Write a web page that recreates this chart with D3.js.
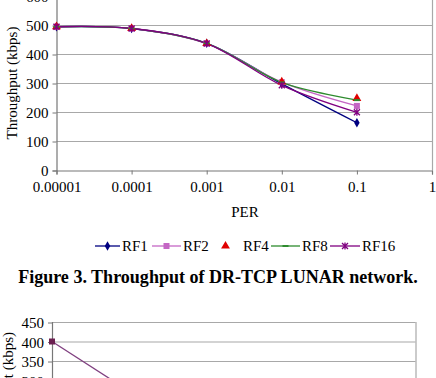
<!DOCTYPE html>
<html>
<head>
<meta charset="utf-8">
<script src="https://cdn.jsdelivr.net/npm/d3@7"></script>
<style>
  html, body { margin: 0; padding: 0; background: #fff; }
  svg { display: block; }
</style>
</head>
<body>
<svg id="chart" width="436" height="378"></svg>
<script>
// ---------- data ----------
const perValues = [0.00001, 0.0001, 0.001, 0.01, 0.1];
const xTickValues = [0.00001, 0.0001, 0.001, 0.01, 0.1, 1];
const xTickLabels = ["0.00001", "0.0001", "0.001", "0.01", "0.1", "1"];
const yTickValues = [0, 100, 200, 300, 400, 500, 600];

const rf1 = [494, 488, 437, 297, 163];
const rf2 = [494, 488, 436, 303, 221];
const rf4 = [494, 488, 436, 304, 247];
const rf8 = [494, 488, 437, 302, 241];
const rf16 = [494, 488, 436, 292, 199];

const seriesNames = ["RF1", "RF2", "RF4", "RF8", "RF16"];
const seriesValues = [rf1, rf2, rf4, rf8, rf16];

// second (partially visible) figure
const fig2Per = [0.00001, 0.0001];
const fig2Values = [400, 280];
const fig2YTicks = [300, 350, 400, 450];

const captionText = "Figure 3. Throughput of DR-TCP LUNAR network.";

// ---------- styles ----------
const FONT = "'Times New Roman', Tinos, FreeSerif, serif";
const styles = {
  RF1: { color: "#000080", marker: "diamond", line: true },
  RF2: { color: "#c466c4", marker: "square", line: true },
  RF4: { color: "#e00000", marker: "triangle", line: false },
  RF8: { color: "#2e8b2e", marker: "dash", line: true },
  RF16: { color: "#800080", marker: "star", line: true }
};

const svg = d3.select("#chart");
const gridColor = "#a8a8a8";

function txt(sel, size, weight) {
  return sel.attr("font-family", FONT).style("font-family", FONT)
    .style("font-size", size + "px").style("font-weight", weight || "normal").attr("fill", "#000");
}

function drawMarker(g, type, cx, cy, color) {
  if (type === "diamond") {
    g.append("path").attr("d", d3.symbol(d3.symbolDiamond, 26)())
      .attr("transform", `translate(${cx},${cy})`).attr("fill", color);
  } else if (type === "square") {
    g.append("rect").attr("x", cx - 3).attr("y", cy - 3).attr("width", 6).attr("height", 6)
      .attr("fill", color);
  } else if (type === "triangle") {
    g.append("path").attr("d", d3.symbol(d3.symbolTriangle, 34)())
      .attr("transform", `translate(${cx},${cy})`).attr("fill", color);
  } else if (type === "dash") {
    g.append("line").attr("x1", cx - 3).attr("x2", cx + 3).attr("y1", cy).attr("y2", cy)
      .attr("stroke", color).attr("stroke-width", 2);
  } else if (type === "star") {
    const s = 3;
    g.append("path")
      .attr("d", `M${cx - s},${cy - s}L${cx + s},${cy + s}M${cx - s},${cy + s}L${cx + s},${cy - s}M${cx},${cy - s - 0.5}L${cx},${cy + s + 0.5}`)
      .attr("stroke", color).attr("stroke-width", 1.3).attr("fill", "none");
  }
}

// ---------- Figure 3 ----------
const x = d3.scaleLog().domain([1e-5, 1]).range([56.5, 432]);
const y = d3.scaleLinear().domain([0, 600]).range([170, -4]);

const plot = svg.append("g");

plot.selectAll("line.grid").data(yTickValues.filter(v => v > 0)).join("line")
  .attr("x1", x.range()[0]).attr("x2", x.range()[1])
  .attr("y1", d => y(d) + 0.5).attr("y2", d => y(d) + 0.5)
  .attr("stroke", gridColor).attr("stroke-width", 1.2);

plot.append("line").attr("x1", x.range()[1] + 0.5).attr("x2", x.range()[1] + 0.5)
  .attr("y1", y(600)).attr("y2", y(0)).attr("stroke", gridColor).attr("stroke-width", 1.2);

const yAxis = d3.axisLeft(y).tickValues(yTickValues).tickSize(4).tickPadding(4).tickFormat(d3.format("d"));
const gy = plot.append("g").attr("transform", `translate(${x.range()[0]},0.5)`).call(yAxis);
gy.attr("font-family", null);
gy.select(".domain").attr("stroke", "#777").attr("stroke-width", 1.2);
gy.selectAll(".tick line").attr("stroke", "#777");
txt(gy.selectAll(".tick text"), 15).attr("dy", "0.34em");

const xAxis = d3.axisBottom(x).tickValues(xTickValues).tickSize(4).tickPadding(7)
  .tickFormat((d, i) => xTickLabels[i]);
const gx = plot.append("g").attr("transform", `translate(0,${y(0) + 0.5})`).call(xAxis);
gx.attr("font-family", null);
gx.select(".domain").attr("stroke", "#777").attr("stroke-width", 1.2);
gx.selectAll(".tick line").attr("stroke", "#777");
txt(gx.selectAll(".tick text"), 15);

txt(svg.append("text"), 15).attr("transform", `translate(17,${(y(0) + y(600)) / 2}) rotate(-90)`)
  .attr("text-anchor", "middle").text("Throughput (kbps)");
txt(svg.append("text"), 15).attr("x", 245).attr("y", 217).attr("text-anchor", "middle").text("PER");

const lineGen = d3.line().x((d, i) => x(perValues[i])).y(d => y(d)).curve(d3.curveCatmullRom.alpha(0.5));
seriesNames.forEach((name, si) => {
  const st = styles[name];
  if (st.line) {
    plot.append("path").datum(seriesValues[si]).attr("d", lineGen)
      .attr("fill", "none").attr("stroke", st.color).attr("stroke-width", 1.3);
  }
});
seriesNames.forEach((name, si) => {
  const st = styles[name];
  const g = plot.append("g");
  seriesValues[si].forEach((v, i) => drawMarker(g, st.marker, x(perValues[i]), y(v), st.color));
});

// legend
const legendY = 246;
const legendItems = [
  { name: "RF1", lx: 95, lw: 25, tx: 122 },
  { name: "RF2", lx: 152, lw: 29, tx: 183 },
  { name: "RF4", lx: 212, lw: 27, tx: 243 },
  { name: "RF8", lx: 271, lw: 29, tx: 302 },
  { name: "RF16", lx: 330, lw: 30, tx: 362 }
];
const lg = svg.append("g");
legendItems.forEach(it => {
  const st = styles[it.name];
  if (st.line) {
    lg.append("line").attr("x1", it.lx).attr("x2", it.lx + it.lw).attr("y1", legendY).attr("y2", legendY)
      .attr("stroke", st.color).attr("stroke-width", 1.3);
  }
  drawMarker(lg, st.marker, it.lx + it.lw / 2, legendY, st.color);
  txt(lg.append("text"), 15).attr("x", it.tx).attr("y", legendY + 5).text(it.name);
});

// caption
const cap = txt(svg.append("text"), 17, "bold").attr("x", 218).attr("y", 283).attr("text-anchor", "middle")
  .text(captionText);
const capW = cap.node().getComputedTextLength();
if (capW > 0) cap.style("font-size", (17 * 400 / capW).toFixed(2) + "px");

// ---------- next figure (cut off) ----------
const x2 = d3.scaleLog().domain([1e-5, 1]).range([52, 415.5]);
const y2 = d3.scaleLinear().domain([0, 450]).range([497.5, 322]);
const p2 = svg.append("g");
p2.selectAll("line.grid2").data(fig2YTicks).join("line")
  .attr("x1", x2.range()[0]).attr("x2", x2.range()[1])
  .attr("y1", d => y2(d) + 0.5).attr("y2", d => y2(d) + 0.5)
  .attr("stroke", gridColor).attr("stroke-width", 1.2);
p2.append("line").attr("x1", x2.range()[1] + 0.5).attr("x2", x2.range()[1] + 0.5)
  .attr("y1", y2(450)).attr("y2", 400).attr("stroke", gridColor).attr("stroke-width", 1.2);
const y2Axis = d3.axisLeft(y2).tickValues(fig2YTicks).tickSize(4).tickPadding(4).tickFormat(d3.format("d"));
const gy2 = p2.append("g").attr("transform", `translate(${x2.range()[0]},0.5)`).call(y2Axis);
gy2.attr("font-family", null);
gy2.select(".domain").remove();
p2.append("line").attr("x1", x2.range()[0] + 0.5).attr("x2", x2.range()[0] + 0.5)
  .attr("y1", y2(450)).attr("y2", 400).attr("stroke", "#777").attr("stroke-width", 1.2);
gy2.selectAll(".tick line").attr("stroke", "#777");
txt(gy2.selectAll(".tick text"), 15).attr("dy", "0.34em");
txt(svg.append("text"), 15).attr("transform", `translate(13,332) rotate(-90)`)
  .attr("text-anchor", "end").text("Throughput (kbps)");
const line2 = d3.line().x((d, i) => x2(fig2Per[i])).y(d => y2(d));
p2.append("path").datum(fig2Values).attr("d", line2).attr("fill", "none")
  .attr("stroke", "#804080").attr("stroke-width", 1.3);
drawMarker(p2, "square", x2(fig2Per[0]), y2(fig2Values[0]), "#6a2050");
</script>
</body>
</html>
